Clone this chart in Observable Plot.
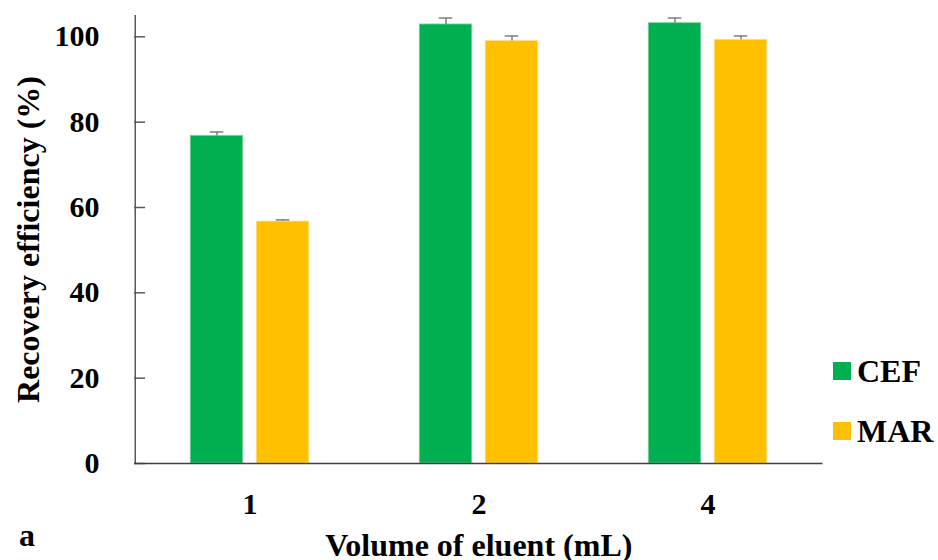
<!DOCTYPE html>
<html>
<head>
<meta charset="utf-8">
<script src="https://cdn.jsdelivr.net/npm/d3@7"></script>
<script src="https://cdn.jsdelivr.net/npm/@observablehq/plot@0.6"></script>
<style>
  body { margin: 0; background: #fff; }
  #wrap { position: relative; width: 938px; height: 560px; overflow: hidden;
          font-family: "Liberation Serif", "Times New Roman", serif; font-weight: bold; color: #000; }
  .leg { position: absolute; left: 833px; display: flex; align-items: center;
         font-size: 32px; line-height: 32px; }
  .sw { width: 18px; height: 18px; margin-right: 6px; }
  #panel { position: absolute; left: 19px; top: 519px; font-size: 32px; line-height: 32px; }
</style>
</head>
<body>
<div id="wrap"></div>
<script>
// ---- data ----
const volumes = ["1", "2", "4"];
const series = ["CEF", "MAR"];
const cefValues = [76.8, 102.9, 103.2];
const cefErrors = [0.9, 1.5, 1.2];
const marValues = [56.7, 99.0, 99.3];
const marErrors = [0.4, 1.2, 0.9];
const yTicks = [0, 20, 40, 60, 80, 100];
const colors = ["#00B050", "#FFC000"];

const rows = [];
volumes.forEach((v, i) => {
  rows.push({volume: v, series: "CEF", value: cefValues[i], err: cefErrors[i]});
  rows.push({volume: v, series: "MAR", value: marValues[i], err: marErrors[i]});
});

// ---- layout ----
const W = 938, H = 560;
const ml = 134, mr = 115.5, mt = 15, mb = 97;
const frameW = W - ml - mr;
const step = frameW / volumes.length;
const barW = 53, gap = 13, capW = 14;
const off = (step - 2 * barW - gap) / 2;
const start = {CEF: off, MAR: off + barW + gap};
const edge = {CEF: "#7fd4a0", MAR: "#ffdf80"};

const errColor = "#7f7f7f";
const marks = [];
series.forEach((s) => {
  const data = rows.filter(d => d.series === s);
  const left = start[s];
  marks.push(Plot.barY(data, {
    x: "volume", y: "value", fill: "series",
    insetLeft: left, insetRight: step - left - barW,
    stroke: edge[s], strokeWidth: 0.8
  }));
  marks.push(Plot.ruleX(data, {
    x: "volume", y1: "value", y2: d => d.value + d.err,
    dx: left + barW / 2 - step / 2, stroke: errColor, strokeWidth: 1.5
  }));
  marks.push(Plot.tickY(data, {
    x: "volume", y: d => d.value + d.err,
    insetLeft: left + barW / 2 - capW / 2,
    insetRight: step - (left + barW / 2 + capW / 2),
    stroke: errColor, strokeWidth: 1.5
  }));
});

// axis lines and inward ticks
marks.push(Plot.tickY(yTicks, {y: d => d, insetRight: frameW - 11, stroke: "#595959", strokeWidth: 1.5}));
marks.push(Plot.ruleX(volumes.slice(0, 1), {x: d => d, dx: -step / 2, stroke: "#595959", strokeWidth: 1.5}));
marks.push(Plot.ruleY([0], {stroke: "#404040", strokeWidth: 1.5}));

// axis titles
marks.push(Plot.text(["Recovery efficiency (%)"], {
  text: d => d, frameAnchor: "left", textAnchor: "middle", dx: -106, rotate: -90, fontSize: 32, fill: "#000"
}));
marks.push(Plot.text(["Volume of eluent (mL)"], {
  text: d => d, frameAnchor: "bottom", textAnchor: "middle", dy: 92, lineAnchor: "bottom", fontSize: 32, fill: "#000"
}));

const chart = Plot.plot({
  width: W, height: H,
  marginLeft: ml, marginRight: mr, marginTop: mt, marginBottom: mb,
  style: {fontFamily: "'Liberation Serif', 'Times New Roman', serif", fontWeight: "bold",
          fontSize: "30px", color: "#000", background: "#fff"},
  x: {domain: volumes, padding: 0, tickSize: 0, tickPadding: 29, label: null},
  y: {domain: [0, 105], ticks: yTicks, tickSize: 0, tickPadding: 35, label: null, tickFormat: d => String(d)},
  color: {domain: series, range: colors},
  marks
});

const wrap = document.getElementById("wrap");
wrap.appendChild(chart);

// legend
const legTops = [355, 415];
series.forEach((s, i) => {
  const row = document.createElement("div");
  row.className = "leg";
  row.style.top = legTops[i] + "px";
  const sw = document.createElement("div");
  sw.className = "sw";
  sw.style.background = colors[i];
  const label = document.createElement("span");
  label.textContent = s;
  row.appendChild(sw);
  row.appendChild(label);
  wrap.appendChild(row);
});

// panel letter
const panel = document.createElement("div");
panel.id = "panel";
panel.textContent = "a";
wrap.appendChild(panel);
</script>
</body>
</html>
